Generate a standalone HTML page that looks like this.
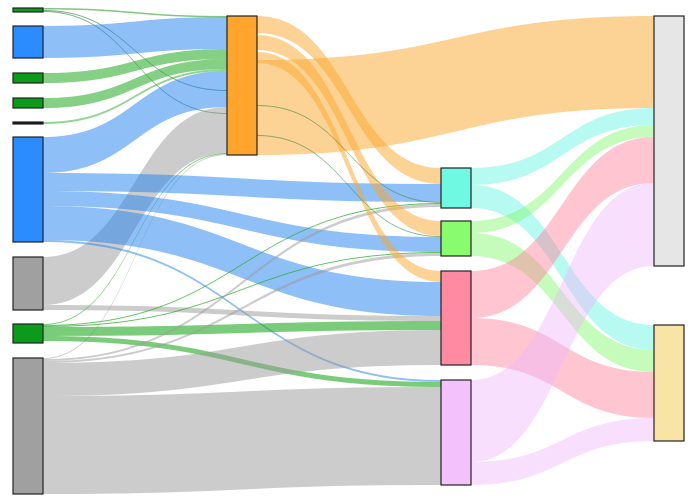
<!DOCTYPE html>
<html><head><meta charset="utf-8"><style>
html,body{margin:0;padding:0;background:#fff;width:700px;height:500px;overflow:hidden}
svg{display:block}
</style></head><body>
<svg id="s" width="700" height="500" xmlns="http://www.w3.org/2000/svg"><g id="links"></g><g id="nodes"></g></svg>
<script>
var L=[
// [x0,a0,a1,x1,b0,b1,color,opacity]
[43,8,9.5,227,16,17.5,'#2ca02c',0.6],
[43,10,11,227,90,91,'#2a7a3a',0.6],
[43,11,12,227,113,114,'#2a7a3a',0.6],
[43,26,58,227,17,49,'#1e7ff0',0.5],
[43,73,83,227,49,59,'#22aa22',0.55],
[43,98,108,227,59,69,'#22aa22',0.55],
[43,122,124,227,69,71,'#22aa22',0.5],
[43,137,173,227,71,107,'#1e7ff0',0.5],
[43,257,305,227,107,153,'#999',0.5],
[43,324,325,227,153,154,'#22aa22',0.6],
[43,358,359,227,154,155,'#999',0.5],
[43,173,191,441,184,202,'#1e7ff0',0.5],
[43,191,206,441,237,252,'#1e7ff0',0.5],
[43,206,240,441,282,316,'#1e7ff0',0.5],
[43,240,242,441,380,382,'#1e7ff0',0.5],
[43,305,310,441,316,321,'#999',0.5],
[43,325,326,441,203,204,'#22aa22',0.7],
[43,326,327,441,252,253,'#22aa22',0.7],
[43,327,336,441,321,330,'#22aa22',0.6],
[43,336,341,441,382,387,'#22aa22',0.6],
[43,359,361,441,204,207,'#999',0.5],
[43,361,363,441,253,256,'#999',0.5],
[43,363,396,441,330,365,'#999',0.5],
[43,396,494,441,387,485,'#999',0.5],
[257,16,33,441,168,184,'#fca62c',0.5],
[257,35,50,441,221,236,'#fca62c',0.5],
[257,52,63,441,271,282,'#fca62c',0.5],
[257,60,155,654,16,108,'#fca62c',0.5],
[257,105,106,441,202,203,'#3a8a4a',0.6],
[257,135,136,441,236,237,'#3a8a4a',0.6],
[471,168,185,654,108,125,'#5ff5e0',0.45],
[471,185,208,654,325,350,'#5ff5e0',0.45],
[471,221,233,654,125,137,'#7ef96a',0.45],
[471,233,256,654,350,372,'#7ef96a',0.45],
[471,271,318,654,137,183,'#ff7f9a',0.45],
[471,318,365,654,372,418,'#ff7f9a',0.45],
[471,380,462,654,183,266,'#f0b8fa',0.45],
[471,462,485,654,418,441,'#f0b8fa',0.45]
];
var g=document.getElementById('links'),h='';
L.forEach(function(l){var x0=l[0],x1=l[3],m=(x0+x1)/2;
h+='<path d="M'+x0+' '+l[1]+'C'+m+' '+l[1]+','+m+' '+l[4]+','+x1+' '+l[4]+'L'+x1+' '+l[5]+'C'+m+' '+l[5]+','+m+' '+l[2]+','+x0+' '+l[2]+'Z" fill="'+l[6]+'" fill-opacity="'+l[7]+'"/>';});
g.innerHTML=h;
var N=[[13,8,4,'#0c9a1a'],[13,26,32,'#2a8cff'],[13,73,10,'#0c9a1a'],[13,98,10,'#0c9a1a'],[13,122,2,'#111'],[13,137,105,'#2a8cff'],[13,257,53,'#a0a0a0'],[13,324,19,'#0c9a1a'],[13,358,136,'#a0a0a0'],
[227,16,139,'#ffa52e'],[441,168,40,'#6ff8e2'],[441,221,35,'#88fb6e'],[441,271,94,'#ff8aa2'],[441,380,105,'#f3c2fd'],[654,16,250,'#e6e6e6'],[654,325,116,'#f8e4a4']];
var s='';N.forEach(function(n){s+='<rect x="'+n[0]+'" y="'+n[1]+'" width="30" height="'+n[2]+'" fill="'+n[3]+'" stroke="#222" stroke-width="1.2"/>';});
document.getElementById('nodes').innerHTML=s;
</script>
</body></html>
